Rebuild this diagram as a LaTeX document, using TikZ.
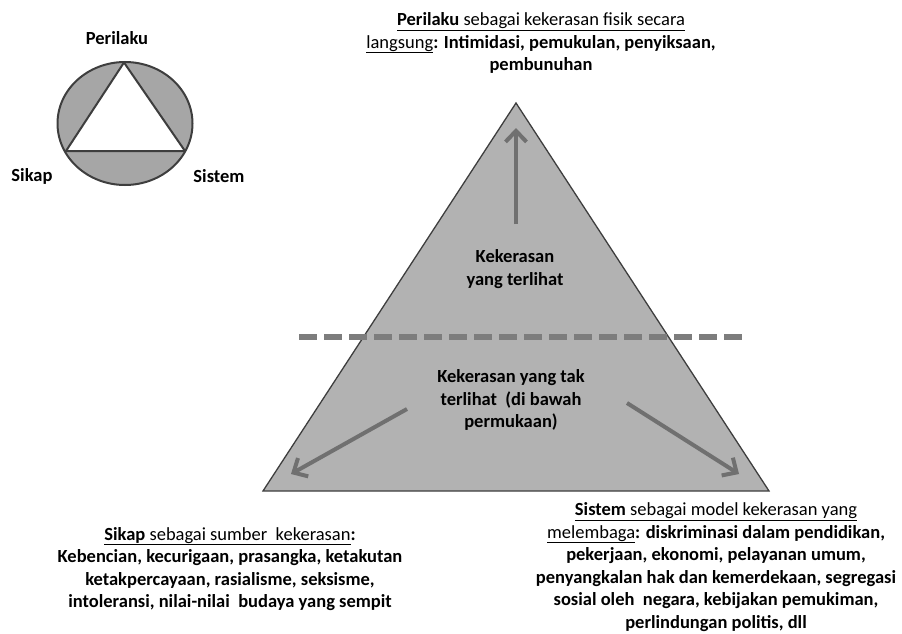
\documentclass[tikz,border=0pt]{standalone}
\usepackage{fontspec}
\setmainfont{Carlito}
\usetikzlibrary{arrows.meta}
\definecolor{pyrfill}{RGB}{178,178,178}
\definecolor{ringfill}{RGB}{166,166,166}
\definecolor{edgegray}{RGB}{62,62,62}
\definecolor{arrowgray}{RGB}{112,112,112}
\definecolor{dashgray}{RGB}{125,125,125}

\begin{document}
\begin{tikzpicture}[x=1pt,y=-1pt,
    txt/.style={align=center,inner sep=0pt,font={\fontsize{18.5}{22.6}\selectfont\bfseries}},
    fat/.style={draw=arrowgray,line width=4pt,-{Straight Barb[length=11pt,width=21pt]}}]
            \useasboundingbox (0,0) rectangle (902,634);
            % small ring
            \draw[fill=ringfill,draw=edgegray,line width=2pt] (125,123.5) ellipse [x radius=67.5,y radius=61.5];
            \coordinate (rtop) at (124,62.5);
            \coordinate (rleft) at (66,151);
            \coordinate (rright) at (185,151);
            \draw[fill=white,draw=edgegray,line width=2pt,line join=round] (rtop) -- (rright) -- (rleft) -- cycle;
            % pyramid
            \coordinate (top) at (516,103);
            \coordinate (bl) at (263,491);
            \coordinate (br) at (769,491);
            \draw[fill=pyrfill,draw=edgegray,line width=1.3pt] (top) -- (br) -- (bl) -- cycle;
            \coordinate (dl) at (299,337);
            \coordinate (dr) at (742,337);
            \draw[dashgray,line width=6pt,dash pattern=on 18pt off 7pt] (dl) -- (dr);
            \begin{scope}[every node/.style={txt}]
                \node (perilaku) at (117,38) {Perilaku};
                \node (sikap) at (32,176) {Sikap};
                \node (sistem) at (219,176) {Sistem};
                \node (visible) at (515,269) {Kekerasan\\yang terlihat};
                \node (hidden) at (511,400) {Kekerasan yang tak\\terlihat\ \ (di bawah\\permukaan)};
                \node (descp) at (541,43) {\underline{Perilaku \mdseries sebagai kekerasan fisik secara}\\
                    \underline{\mdseries langsung}: Intimidasi, pemukulan, penyiksaan,\\pembunuhan};
                \node (descsk) at (230,569) {\underline{Sikap \mdseries sebagai sumber\ \ kekerasan}:\\
                    Kebencian, kecurigaan, prasangka, ketakutan\\ketakpercayaan, rasialisme, seksisme,\\
                    intoleransi, nilai-nilai\ \ budaya yang sempit};
                \node (descsi) at (716,567) {\underline{Sistem \mdseries sebagai model kekerasan yang}\\
                    \underline{\mdseries melembaga}: diskriminasi dalam pendidikan,\\pekerjaan, ekonomi, pelayanan umum,\\
                    penyangkalan hak dan kemerdekaan, segregasi\\sosial oleh\ \ negara, kebijakan pemukiman,\\
                    perlindungan politis, dll};
            \end{scope}
            \coordinate (up1) at (516,224);
            \coordinate (up2) at (516,128);
            \coordinate (l1) at (407,409);
            \coordinate (l2) at (291,474);
            \coordinate (r1) at (627,403);
            \coordinate (r2) at (739,474);
            \draw (up1) edge [fat] (up2);
            \draw (l1) edge [fat] (l2);
            \draw (r1) edge [fat] (r2);
        \end{tikzpicture}
\end{document}
